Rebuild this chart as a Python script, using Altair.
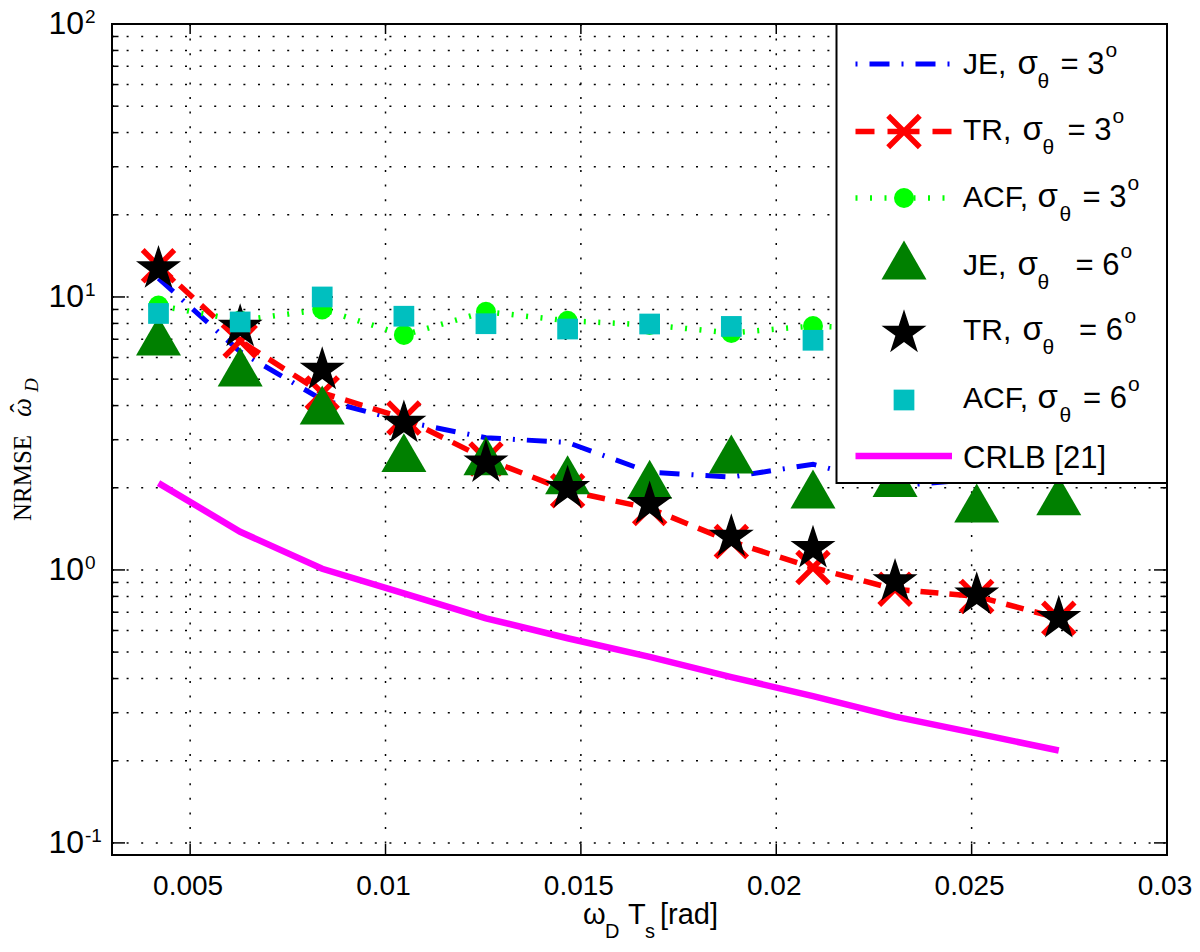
import altair as alt
import pandas as pd

# ---------------- data ----------------
x_vals = [0.00419, 0.00628, 0.00838, 0.01047, 0.01257, 0.01466,
          0.01676, 0.01885, 0.02094, 0.02304, 0.02513, 0.02723]
je_3 = [11.7, 6.3, 4.2, 3.5, 3.05, 2.93, 2.28, 2.19, 2.44, 2.03, 2.15, 2.3]
tr_3 = [13.0, 6.9, 4.45, 3.6, 2.55, 1.95, 1.68, 1.27, 1.02, 0.85, 0.80, 0.665]
acf_3 = [9.3, 8.2, 9.0, 7.26, 8.83, 8.18, 7.9, 7.38, 7.83, 7.6, 7.7, 7.5]
je_6 = [7.2, 5.54, 4.02, 2.69, 2.62, 2.23, 2.15, 2.66, 1.98, 2.18, 1.76, 1.87]
tr_6 = [12.7, 7.76, 5.4, 3.45, 2.47, 1.99, 1.74, 1.32, 1.20, 0.906, 0.81, 0.665]
acf_6 = [8.7, 8.1, 10.0, 8.5, 7.98, 7.63, 7.96, 7.8, 6.94, 7.2, 7.4, 7.1]
crlb = [2.08, 1.38, 1.01, 0.82, 0.665, 0.562, 0.48, 0.405, 0.345, 0.29, 0.252, 0.218]

x_ticks = [0.005, 0.01, 0.015, 0.02, 0.025, 0.03]
x_tick_labels = ["0.005", "0.01", "0.015", "0.02", "0.025", "0.03"]
y_major = [0.1, 1, 10, 100]
y_major_exp = ["-1", "0", "1", "2"]
y_minor = [0.2, 0.3, 0.4, 0.5, 0.6, 0.7, 0.8, 0.9,
           2, 3, 4, 5, 6, 7, 8, 9,
           20, 30, 40, 50, 60, 70, 80, 90]

leg_names = ["JE,", "TR,", "ACF,", "JE,", "TR,", "ACF,"]
leg_vals = ["= 3", "= 3", "= 3", "= 6", "= 6", "= 6"]
crlb_name = "CRLB [21]"

df = pd.DataFrame({"x": x_vals, "je3": je_3, "tr3": tr_3, "acf3": acf_3,
                   "je6": je_6, "tr6": tr_6, "acf6": acf_6, "crlb": crlb})
ymaj_df = pd.DataFrame({"v": y_major, "exp": y_major_exp})
ymin_df = pd.DataFrame({"v": y_minor})
xt_df = pd.DataFrame({"v": x_ticks, "lab": x_tick_labels})
ygrid_df = pd.DataFrame({"v": y_major + y_minor})

# ---------------- layout ----------------
W, H = 1055, 831
SANS = "Liberation Sans"
SERIF = "Liberation Serif"
STAR = ("M0,-1L0.2245,-0.309L0.9511,-0.309L0.3633,0.118L0.5878,0.809"
        "L0,0.382L-0.5878,0.809L-0.3633,0.118L-0.9511,-0.309L-0.2245,-0.309Z")
XMARK = "M-1,-1L1,1M-1,1L1,-1"
GRID_DASH = [2, 12.6]

xs = alt.Scale(domain=[0.003, 0.03], nice=False, zero=False)
ys = alt.Scale(type="log", domain=[0.0903, 100], nice=False)

X = alt.X("x:Q", scale=xs, axis=None)
XV = alt.X("v:Q", scale=xs, axis=None)

def Y(f):
    return alt.Y(f + ":Q", scale=ys, axis=None)

one = alt.Data(values=[{"a": 1}])

def txt(s, x, y, size, font=SANS, align="left", baseline="alphabetic",
        angle=None, style=None):
    kw = dict(text=s, fontSize=size, font=font, align=align,
              baseline=baseline, color="black")
    if angle is not None:
        kw["angle"] = angle
    if style is not None:
        kw["fontStyle"] = style
    return alt.Chart(one).mark_text(**kw).encode(x=alt.value(x), y=alt.value(y))

# dotted grid
grid_layers = [
    alt.Chart(ygrid_df).mark_rule(color="black", strokeWidth=1.5,
                                  strokeDash=GRID_DASH).encode(
        y=Y("v"), x=alt.value(0), x2=alt.value(W)),
    alt.Chart(xt_df).mark_rule(color="black", strokeWidth=1.5,
                               strokeDash=GRID_DASH).encode(
        x=XV, y=alt.value(0), y2=alt.value(H)),
]

base = alt.Chart(df)
je3_line = base.mark_line(color="#0000ff", strokeWidth=5,
                          strokeDash=[20, 12, 2, 12]).encode(x=X, y=Y("je3"))
tr3_line = base.mark_line(color="#ff0000", strokeWidth=5.5,
                          strokeDash=[18, 11]).encode(x=X, y=Y("tr3"))
tr3_pts = base.mark_point(shape=XMARK, filled=False, color="#ff0000",
                          strokeWidth=5.5, size=1000, opacity=1).encode(x=X, y=Y("tr3"))
acf3_line = base.mark_line(color="#00ff00", strokeWidth=5.5,
                           strokeDash=[2, 12.5]).encode(x=X, y=Y("acf3"))
acf3_pts = base.mark_point(shape="circle", filled=True, color="#00ff00",
                           size=400, opacity=1).encode(x=X, y=Y("acf3"))
je6_pts = base.mark_point(shape="triangle-up", filled=True, color="#008000",
                          size=2025, opacity=1).encode(x=X, y=Y("je6"))
tr6_pts = base.mark_point(shape=STAR, filled=True, color="#000000",
                          size=2240, opacity=1).encode(x=X, y=Y("tr6"))
acf6_pts = base.mark_point(shape="square", filled=True, color="#00bfbf",
                           size=430, opacity=1).encode(x=X, y=Y("acf6"))
crlb_line = base.mark_line(color="#ff00ff", strokeWidth=6.5).encode(x=X, y=Y("crlb"))

# inward ticks
tick_layers = [
    alt.Chart(ymaj_df).mark_rule(color="black", strokeWidth=1.5).encode(
        y=Y("v"), x=alt.value(0), x2=alt.value(13)),
    alt.Chart(ymaj_df).mark_rule(color="black", strokeWidth=1.5).encode(
        y=Y("v"), x=alt.value(W - 13), x2=alt.value(W)),
    alt.Chart(ymin_df).mark_rule(color="black", strokeWidth=1.5).encode(
        y=Y("v"), x=alt.value(0), x2=alt.value(6.5)),
    alt.Chart(ymin_df).mark_rule(color="black", strokeWidth=1.5).encode(
        y=Y("v"), x=alt.value(W - 6.5), x2=alt.value(W)),
    alt.Chart(xt_df).mark_rule(color="black", strokeWidth=1.5).encode(
        x=XV, y=alt.value(H - 11), y2=alt.value(H)),
    alt.Chart(xt_df).mark_rule(color="black", strokeWidth=1.5).encode(
        x=XV, y=alt.value(0), y2=alt.value(10)),
]

# tick labels
xlab = alt.Chart(xt_df).mark_text(
    font=SANS, fontSize=28, align="center", baseline="alphabetic", dx=-2,
    color="black").encode(x=XV, y=alt.value(H + 40), text="lab:N")
ylab_base = alt.Chart(ymaj_df).mark_text(
    text="10", font=SANS, fontSize=32, align="right", baseline="middle",
    color="black").encode(y=Y("v"), x=alt.value(-28))
ylab_exp = alt.Chart(ymaj_df).mark_text(
    font=SANS, fontSize=19, align="left", baseline="middle", dy=-7,
    color="black").encode(y=Y("v"), x=alt.value(-27), text="exp:N")

# axis titles
title_layers = [
    txt("\u03c9", 471, 900, 29),
    txt("D", 493, 914, 20),
    txt("T", 516, 900, 29),
    txt("s", 533, 914, 20),
    txt("[rad]", 548, 900, 29),
    txt("NRMSE", -81, 497, 25, font=SERIF, angle=270),
    txt("\u03c9", -81, 393, 27, font=SERIF, angle=270, style="italic"),
    txt("\u02c6", -83, 384, 27, font=SERIF, angle=270, align="center"),
    txt("D", -74, 368, 19, font=SERIF, angle=270, style="italic"),
]

# legend
LX0, LX1, LXM, LT = 743.5, 840, 792, 851
row_y = [40, 107.5, 174, 236, 309, 376, 432]
text_base = [50, 116, 183, 251, 316, 384, 444]
sig_x = [905.5, 910.5, 925.5, 905.5, 910.5, 925.5]
th_x = [925.5, 930.5, 947.5, 925.5, 930.5, 947.5]
eq_x = [948.5, 955.5, 970.5, 963.5, 967.0, 971.0]
o_x = [993.5, 1000.5, 1015.5, 1008.5, 1012.5, 1016.0]

legend_layers = [
    alt.Chart(one).mark_rect(fill="white", stroke="black", strokeWidth=2).encode(
        x=alt.value(724.5), x2=alt.value(W), y=alt.value(0), y2=alt.value(459)),
    alt.Chart(one).mark_rule(color="#0000ff", strokeWidth=5,
                             strokeDash=[2, 12, 20, 12]).encode(
        x=alt.value(LX0), x2=alt.value(LX1), y=alt.value(row_y[0])),
    alt.Chart(one).mark_rule(color="#ff0000", strokeWidth=5.5,
                             strokeDash=[19, 13, 32, 13, 19, 40]).encode(
        x=alt.value(LX0), x2=alt.value(LX1), y=alt.value(row_y[1])),
    alt.Chart(one).mark_point(shape=XMARK, filled=False, color="#ff0000",
                              strokeWidth=5.5, size=1000, opacity=1).encode(
        x=alt.value(LXM), y=alt.value(row_y[1])),
    alt.Chart(one).mark_rule(color="#00ff00", strokeWidth=5.5,
                             strokeDash=[2, 12.5]).encode(
        x=alt.value(LX0), x2=alt.value(LX1), y=alt.value(row_y[2])),
    alt.Chart(one).mark_point(shape="circle", filled=True, color="#00ff00",
                              size=400, opacity=1).encode(
        x=alt.value(LXM), y=alt.value(row_y[2])),
    alt.Chart(one).mark_point(shape="triangle-up", filled=True, color="#008000",
                              size=2025, opacity=1).encode(
        x=alt.value(LXM), y=alt.value(row_y[3])),
    alt.Chart(one).mark_point(shape=STAR, filled=True, color="#000000",
                              size=2240, opacity=1).encode(
        x=alt.value(LXM), y=alt.value(row_y[4])),
    alt.Chart(one).mark_point(shape="square", filled=True, color="#00bfbf",
                              size=430, opacity=1).encode(
        x=alt.value(LXM), y=alt.value(row_y[5])),
    alt.Chart(one).mark_rule(color="#ff00ff", strokeWidth=6.5).encode(
        x=alt.value(LX0), x2=alt.value(LX1), y=alt.value(row_y[6])),
]
for i in range(6):
    b = text_base[i]
    legend_layers += [
        txt(leg_names[i], LT, b, 30),
        txt("\u03c3", sig_x[i], b, 33),
        txt("\u03b8", th_x[i], b + 14, 21),
        txt(leg_vals[i], eq_x[i], b, 31),
        txt("o", o_x[i], b - 17, 21),
    ]
legend_layers.append(txt(crlb_name, LT, text_base[6], 31))

chart = alt.layer(
    *grid_layers,
    je3_line, tr3_line, tr3_pts, acf3_line, acf3_pts,
    je6_pts, tr6_pts, acf6_pts, crlb_line,
    *tick_layers, xlab, ylab_base, ylab_exp, *title_layers, *legend_layers,
).properties(
    width=W, height=H,
    autosize=alt.AutoSizeParams(type="none"),
    padding={"left": 104, "top": 16, "right": 25, "bottom": 92},
    background="white",
).configure_view(stroke="black", strokeWidth=2)

chart.save("out.html", embed_options={"renderer": "svg", "actions": False})
